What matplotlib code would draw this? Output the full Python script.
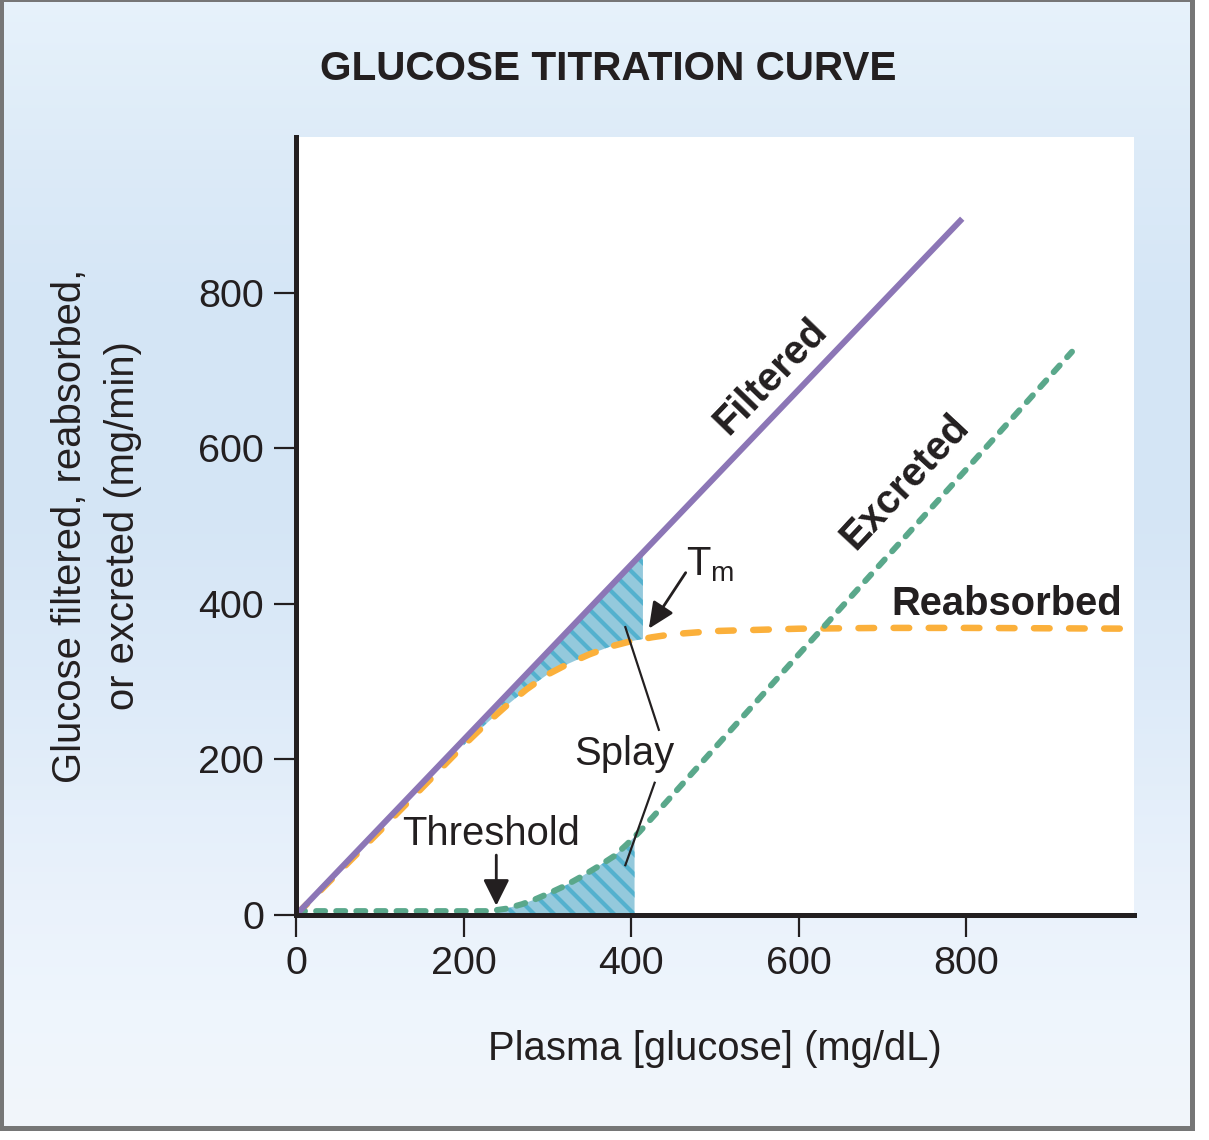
import numpy as np
import matplotlib
matplotlib.use('Agg')
import matplotlib.pyplot as plt
from matplotlib.patches import Rectangle

# ---------------- data ----------------
filtered_x = [0, 795]
filtered_y = [0, 895]

reabsorbed_x = [0, 100, 200, 225, 250, 275, 300, 325, 350, 375, 400, 425, 450, 500, 600, 700, 800, 1000]
reabsorbed_y = [0, 108, 218, 244, 268, 290, 309, 323, 335, 345, 352, 357, 361, 365, 368, 369, 369, 368]

excreted_x = [0, 100, 200, 230, 250, 270, 285, 300, 320, 340, 360, 380, 395, 410, 450, 500, 600, 700, 800, 926]
excreted_y = [5, 5, 5, 5, 8, 14, 20, 27, 37, 49, 62, 76, 91, 107, 155, 215, 335, 454, 573, 724]

splay_top_range = (200, 414)      # between filtered and reabsorbed
splay_bottom_range = (238, 404)   # between axis and excreted

x_ticks = [0, 200, 400, 600, 800]
y_ticks = [0, 200, 400, 600, 800]

title = 'GLUCOSE TITRATION CURVE'
x_label = 'Plasma [glucose] (mg/dL)'
y_label = 'Glucose filtered, reabsorbed,\nor excreted (mg/min)'

# ---------------- style ----------------
DPI = 120
W, H = 1209, 1140
def pt(px):
    return px * 72.0 / DPI

plt.rcParams['font.family'] = ['Liberation Sans', 'DejaVu Sans']
plt.rcParams['hatch.linewidth'] = pt(4.2)
plt.rcParams['hatch.color'] = '#53b1ce'

TXT = '#231f20'
PURPLE = '#8c76b6'
ORANGE = '#fbb03b'
GREEN = '#5aa88b'
FILL = '#94c9dc'
HATCH = '#53b1ce'

FS = pt(40)
FS_TICK = pt(39.5)

fig = plt.figure(figsize=(W / DPI, H / DPI), dpi=DPI)
fig.patch.set_facecolor('white')

# background panel with vertical gradient
panel_w, panel_h = 1195, 1131
bg = fig.add_axes([0, (H - panel_h) / H, panel_w / W, panel_h / H], zorder=0)
stops_y = [0, 150, 300, 500, 700, 900, 1000, 1131]
stops_c = np.array([[231, 242, 251], [221, 235, 248], [213, 230, 246], [212, 229, 245],
                    [222, 235, 249], [234, 242, 251], [238, 245, 253], [242, 246, 250]]) / 255.0
rows = np.arange(panel_h)
grad = np.stack([np.interp(rows, stops_y, stops_c[:, k]) for k in range(3)], axis=-1)[:, None, :]
bg.imshow(grad, aspect='auto', extent=[0, 1, 0, 1], interpolation='bilinear')
bg.set_axis_off()

# panel frame (uneven grey edges)
GREY = '#767676'
for (x0, y0, w, h) in [(0, 0, 4, panel_h), (0, 0, panel_w, 2),
                       (panel_w - 5, 0, 5, panel_h), (0, panel_h - 5, panel_w, 5)]:
    fig.patches.append(Rectangle((x0 / W, 1 - (y0 + h) / H), w / W, h / H,
                                 transform=fig.transFigure, facecolor=GREY,
                                 edgecolor='none', zorder=5))

# main axes
ax_l, ax_r, ax_t, ax_b = 296, 1134, 137, 915
ax = fig.add_axes([ax_l / W, (H - ax_b) / H, (ax_r - ax_l) / W, (ax_b - ax_t) / H], zorder=2)
ax.set_facecolor('white')
ax.set_xlim(0, 1000)
ax.set_ylim(0, 1000)
for s in ['top', 'right']:
    ax.spines[s].set_visible(False)
for s in ['left', 'bottom']:
    ax.spines[s].set_linewidth(pt(5))
    ax.spines[s].set_color(TXT)
    ax.spines[s].set_zorder(6)
ax.set_xticks(x_ticks)
ax.set_yticks(y_ticks)
ax.tick_params(direction='out', length=pt(22), width=pt(2.2), color=TXT,
               labelsize=FS_TICK, labelcolor=TXT)
ax.tick_params(axis='y', pad=pt(10))
ax.tick_params(axis='x', pad=pt(9))

# splay shading
fx = np.linspace(*splay_top_range, 80)
f_top = np.interp(fx, filtered_x, filtered_y)
f_bot = np.interp(fx, reabsorbed_x, reabsorbed_y)
ax.fill_between(fx, f_bot, f_top, facecolor=FILL, edgecolor=HATCH, hatch='\\\\',
                linewidth=0, zorder=1)
ex = np.linspace(*splay_bottom_range, 80)
e_top = np.interp(ex, excreted_x, excreted_y)
ax.fill_between(ex, 0, e_top, facecolor=FILL, edgecolor=HATCH, hatch='\\\\',
                linewidth=0, zorder=1)

# curves
ax.plot(reabsorbed_x, reabsorbed_y, color=ORANGE, lw=pt(6.5), dashes=(2.4, 3.0),
        dash_capstyle='round', zorder=3)
ax.plot(excreted_x, excreted_y, color=GREEN, lw=pt(6), dashes=(1.5, 1.85),
        dash_capstyle='round', zorder=4)
ax.plot(filtered_x, filtered_y, color=PURPLE, lw=pt(6), solid_capstyle='butt', zorder=5)

# labels on curves
ax.text(566, 692, 'Filtered', rotation=46, rotation_mode='anchor', ha='center', va='center',
        fontsize=FS, fontweight='bold', color=TXT)
ax.text(726, 557, 'Excreted', rotation=47, rotation_mode='anchor', ha='center', va='center',
        fontsize=FS, fontweight='bold', color=TXT)
ax.text(848, 386, 'Reabsorbed', ha='center', va='baseline', fontsize=FS,
        fontweight='bold', color=TXT)

# annotations
ax.text(465, 437, r'T$_{\mathregular{m}}$', ha='left', va='baseline', fontsize=FS, color=TXT)
ax.annotate('', xy=(421, 368), xytext=(465, 440),
            arrowprops=dict(arrowstyle='-|>,head_length=1.1,head_width=0.5',
                            mutation_scale=pt(20), lw=pt(2.8), color=TXT,
                            shrinkA=0, shrinkB=0), zorder=7)
ax.text(392, 193, 'Splay', ha='center', va='baseline', fontsize=FS, color=TXT)
ax.plot([393, 433], [370, 238], color=TXT, lw=pt(2.2), zorder=7)
ax.plot([428, 393], [170, 64], color=TXT, lw=pt(2.2), zorder=7)
ax.text(233, 90, 'Threshold', ha='center', va='baseline', fontsize=FS, color=TXT)
ax.annotate('', xy=(239, 12), xytext=(239, 77),
            arrowprops=dict(arrowstyle='-|>,head_length=1.1,head_width=0.55',
                            mutation_scale=pt(20), lw=pt(2.8), color=TXT,
                            shrinkA=0, shrinkB=0), zorder=7)

# axis labels and title
ax.set_xlabel(x_label, fontsize=FS, color=TXT, va='baseline')
ax.xaxis.set_label_coords(0.5, (ax_b - 1060) / (ax_b - ax_t))
ax.set_ylabel(y_label, fontsize=FS, color=TXT, va='center', linespacing=1.5,
              multialignment='center')
ax.yaxis.set_label_coords((97 - ax_l) / (ax_r - ax_l), 0.5)

fig.text(608 / W, 1 - 80 / H, title, ha='center', va='baseline', fontsize=pt(40.5),
         fontweight='bold', color=TXT)

fig.savefig('out.png', dpi=DPI, facecolor=fig.get_facecolor())
